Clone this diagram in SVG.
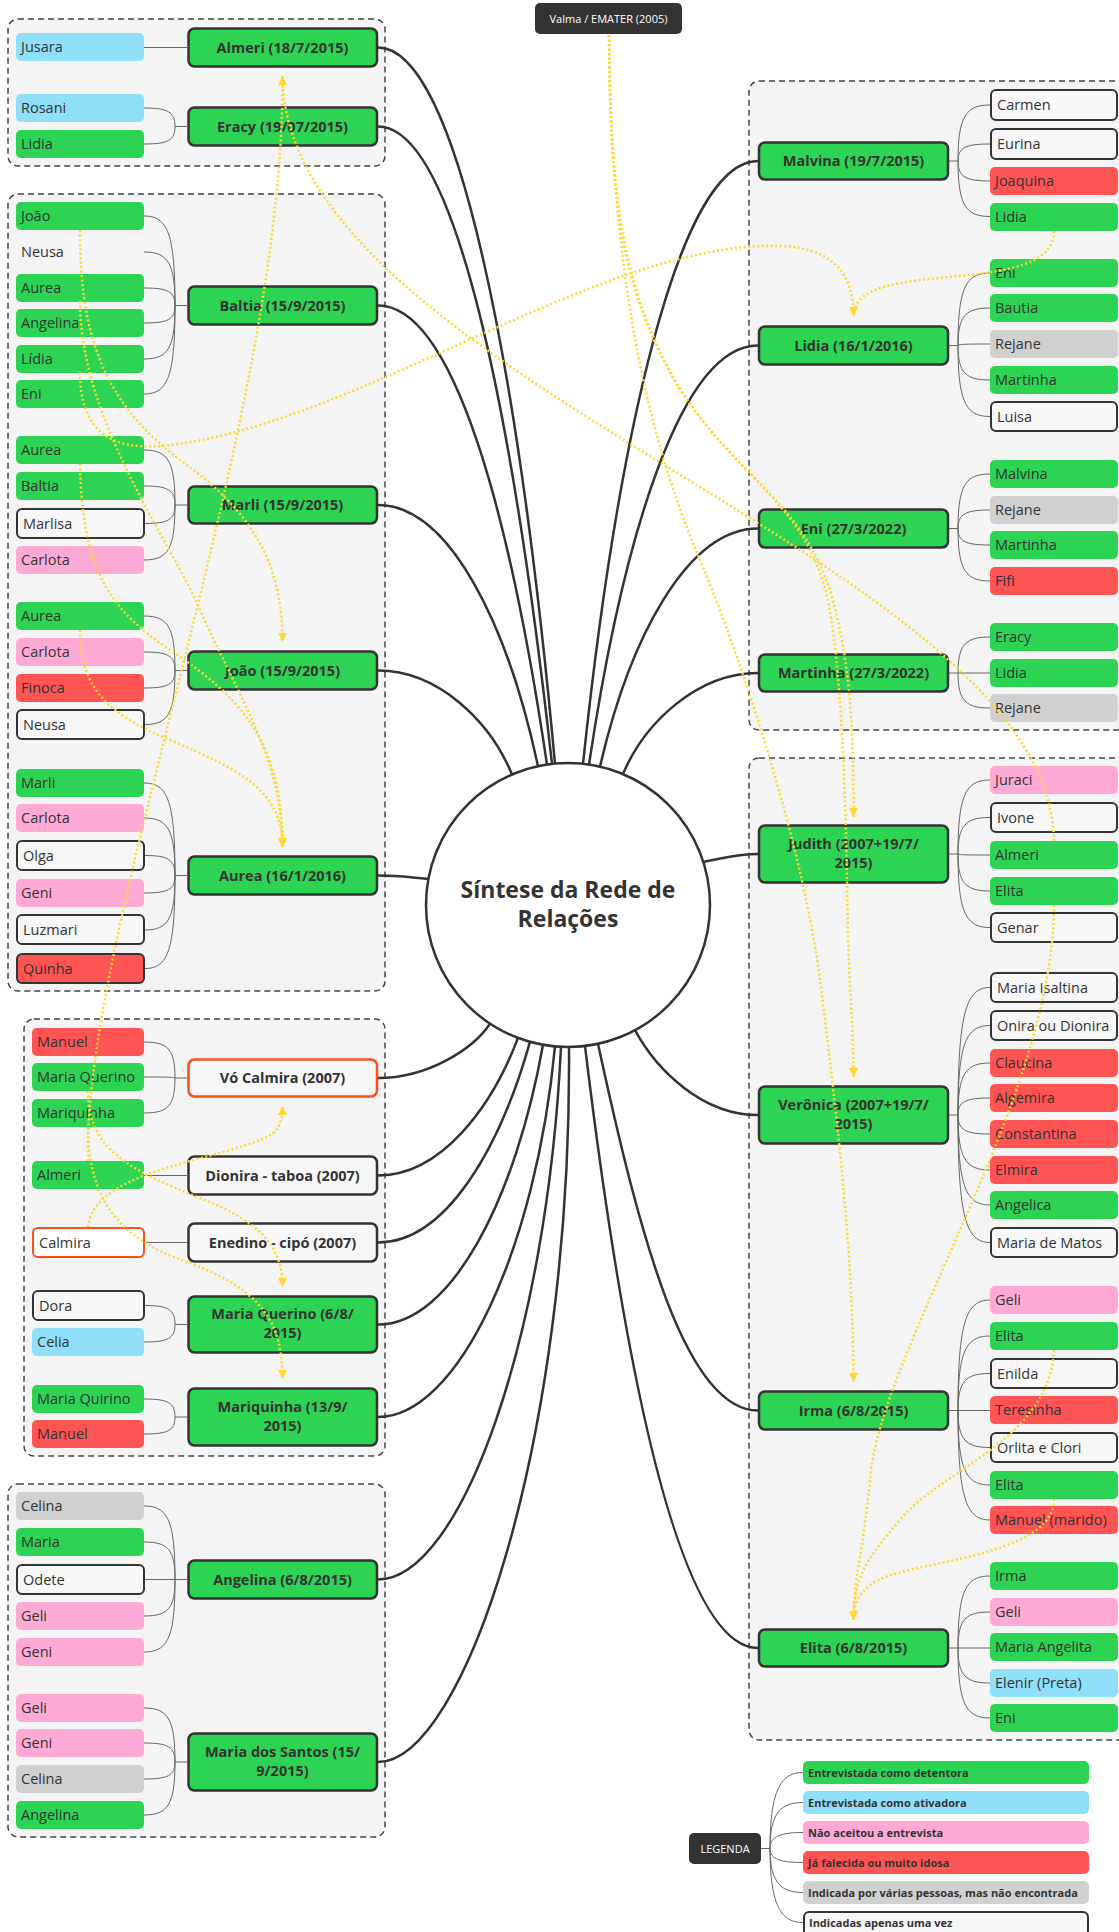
<svg xmlns="http://www.w3.org/2000/svg" width="1119" height="1932" viewBox="0 0 1119 1932">
<style>
.g{fill:#f4f4f4;stroke:#444;stroke-width:1.5;stroke-dasharray:6 4}
.gr{fill:#2dd353}.bl{fill:#8fdff9}.pk{fill:#ffaad5}.rd{fill:#ff5454}.gy{fill:#d0d0d0}
.wb{fill:#f7f7f7;stroke:#333;stroke-width:2}
.ob{fill:#fff;stroke:#ff4d1a;stroke-width:2}
.qb{fill:#ff5454;stroke:#333;stroke-width:2}
.mn{fill:#2dd353;stroke:#333;stroke-width:2.5}
.mw{fill:#f7f7f7;stroke:#333;stroke-width:2.5}
.mo{fill:#f7f7f7;stroke:#ff4d1a;stroke-width:2.5}
.t{font-family:"Open Sans","Noto Sans",sans-serif;font-size:14.5px;fill:#333}
.mt{font-family:"Open Sans","Noto Sans",sans-serif;font-size:14.5px;font-weight:700;fill:#333;text-anchor:middle}
.lt{font-family:"Open Sans","Noto Sans",sans-serif;font-size:11px;font-weight:700;fill:#333}
.wt{font-family:"Open Sans","Noto Sans",sans-serif;font-size:11px;fill:#fff;text-anchor:middle}
.ct{font-family:"Open Sans","Noto Sans",sans-serif;font-size:23px;font-weight:700;fill:#333;text-anchor:middle}
.cn{fill:none;stroke:#333;stroke-width:2.5}
.lc{fill:none;stroke:#666;stroke-width:1}
.rel{fill:none;stroke:#fdd835;stroke-width:2.5;stroke-dasharray:2 2.5;marker-end:url(#ya)}
</style>
<defs>
<marker id="ya" viewBox="0 0 10 10" refX="10" refY="5" markerWidth="9" markerHeight="10" markerUnits="userSpaceOnUse" orient="auto"><path d="M0,0 L10,5 L0,10 z" fill="#fdd835"/></marker>
</defs>
<rect width="1119" height="1932" fill="#fff"/>
<g id="groups">
<rect class="g" x="8" y="19" width="377" height="147" rx="10"/>
<rect class="g" x="8" y="194" width="377" height="797" rx="10"/>
<rect class="g" x="24" y="1019" width="361" height="437" rx="10"/>
<rect class="g" x="8" y="1484" width="377" height="353" rx="10"/>
<rect class="g" x="749" y="81" width="380" height="649" rx="10"/>
<rect class="g" x="749" y="758" width="380" height="982" rx="10"/>
</g>
<g id="connectors">
<g id="main-connectors">
<path class="cn" d="M378,47.5 C458,47.5 519,372 555,763.6"/>
<path class="cn" d="M378,126.5 C456,126.5 513,415 552,763.9"/>
<path class="cn" d="M378,305.5 C454,305.5 510,515 547,764.6"/>
<path class="cn" d="M378,505 C450,505 508,626 538,766.2"/>
<path class="cn" d="M378,670.5 C438,670.5 490,721 512,774.5"/>
<path class="cn" d="M378,875.5 C400,875.5 406,877 428.4,879"/>
<path class="cn" d="M378,1078 C428,1078 473,1049 490,1023.7"/>
<path class="cn" d="M378,1175.5 C441,1175.5 492,1107 518,1037.9"/>
<path class="cn" d="M378,1242.5 C446,1242.5 500,1148 530,1041.8"/>
<path class="cn" d="M378,1324.5 C452,1324.5 516,1197 543,1044.8"/>
<path class="cn" d="M378,1417 C458,1417 536,1249 555,1046.4"/>
<path class="cn" d="M378,1579.5 C460,1579.5 547,1340 561,1046.8"/>
<path class="cn" d="M378,1762 C464,1762 572,1440 569,1047"/>
<path class="cn" d="M758,161 C679,161 618,434 583,763.8"/>
<path class="cn" d="M758,345.5 C681,345.5 623,537 589,764.6"/>
<path class="cn" d="M758,528.5 C687,528.5 629.5,639 600,766.7"/>
<path class="cn" d="M758,673 C697,673 644.5,723 623,774.1"/>
<path class="cn" d="M758,854 C735,854 725,858 703.3,862"/>
<path class="cn" d="M758,1115 C703,1115 657,1071 635,1030.2"/>
<path class="cn" d="M758,1410.5 C686,1410.5 640.6,1241 598,1043.8"/>
<path class="cn" d="M758,1648 C680,1648 624.7,1374.7 585,1046"/>
</g>
<g id="leaf-connectors">
<path class="lc" d="M144,47.5 H187"/>
<path class="lc" d="M144,108 C168,108 175,112 175,126.5 M144,144 C168,144 175,140.5 175,126.5 M175,126.5 H187"/>
<path class="lc" d="M144,216 C168,216 175,234 175,305.5 M144,252 C168,252 175,262.7 175,305.5 M144,288 C168,288 175,291.5 175,305.5 M144,323 C168,323 175,319.5 175,305.5 M144,359 C168,359 175,348.3 175,305.5 M144,394 C168,394 175,376.3 175,305.5 M175,305.5 H187"/>
<path class="lc" d="M144,450 C168,450 175,461 175,505 M144,486 C168,486 175,489.8 175,505 M145,523.5 C168,523.5 175,519.8 175,505 M144,560 C168,560 175,549 175,505 M175,505 H187"/>
<path class="lc" d="M144,616 C168,616 175,626.9 175,670.5 M144,652 C168,652 175,655.7 175,670.5 M144,688 C168,688 175,684.5 175,670.5 M145,724.5 C168,724.5 175,713.7 175,670.5 M175,670.5 H187"/>
<path class="lc" d="M144,783 C168,783 175,801.5 175,875.5 M144,818 C168,818 175,829.5 175,875.5 M145,855.5 C168,855.5 175,859.5 175,875.5 M144,893 C168,893 175,889.5 175,875.5 M145,930 C168,930 175,919.1 175,875.5 M145,968.5 C168,968.5 175,949.9 175,875.5 M175,875.5 H187"/>
<path class="lc" d="M144,1042 C168,1042 175,1049.2 175,1078 M144,1077 C168,1077 175,1077.2 175,1078 M144,1113 C168,1113 175,1106 175,1078 M175,1078 H187"/>
<path class="lc" d="M144,1175.5 H187"/>
<path class="lc" d="M145,1242.5 H187"/>
<path class="lc" d="M145,1305.5 C168,1305.5 175,1309.3 175,1324.5 M144,1342 C168,1342 175,1338.5 175,1324.5 M175,1324.5 H187"/>
<path class="lc" d="M144,1399 C168,1399 175,1402.6 175,1417 M144,1434 C168,1434 175,1430.6 175,1417 M175,1417 H187"/>
<path class="lc" d="M144,1506 C168,1506 175,1520.7 175,1579.5 M144,1542 C168,1542 175,1549.5 175,1579.5 M145,1579.5 H187 M144,1616 C168,1616 175,1608.7 175,1579.5 M144,1652 C168,1652 175,1637.5 175,1579.5"/>
<path class="lc" d="M144,1708 C168,1708 175,1718.8 175,1762 M144,1743 C168,1743 175,1746.8 175,1762 M144,1779 C168,1779 175,1775.6 175,1762 M144,1815 C168,1815 175,1804.4 175,1762 M175,1762 H187"/>
<path class="lc" d="M990,105 C966,105 958,116.2 958,161 M990,144 C966,144 958,147.4 958,161 M990,181 C966,181 958,177 958,161 M990,216.5 C966,216.5 958,205.4 958,161 M949,161 H958"/>
<path class="lc" d="M990,273 C966,273 958,287.5 958,345.5 M990,308 C966,308 958,315.5 958,345.5 M990,344 C966,344 958,344.3 958,345.5 M990,380 C966,380 958,373.1 958,345.5 M990,416.5 C966,416.5 958,402.3 958,345.5 M949,345.5 H958"/>
<path class="lc" d="M990,474 C966,474 958,484.9 958,528.5 M990,510 C966,510 958,513.7 958,528.5 M990,545 C966,545 958,541.7 958,528.5 M990,581 C966,581 958,570.5 958,528.5 M949,528.5 H958"/>
<path class="lc" d="M990,637 C966,637 958,644.2 958,673 M949,673 H990 M990,708 C966,708 958,701 958,673"/>
<path class="lc" d="M990,780 C966,780 958,794.8 958,854 M990,817.5 C966,817.5 958,824.8 958,854 M990,855 C966,855 958,854.8 958,854 M990,891 C966,891 958,883.6 958,854 M990,927.5 C966,927.5 958,912.8 958,854 M949,854 H958"/>
<path class="lc" d="M990,987.5 C966,987.5 958,1013 958,1115 M990,1025.5 C966,1025.5 958,1043.4 958,1115 M990,1063 C966,1063 958,1073.4 958,1115 M990,1098 C966,1098 958,1101.4 958,1115 M990,1134 C966,1134 958,1130.2 958,1115 M990,1170 C966,1170 958,1159 958,1115 M990,1205 C966,1205 958,1187 958,1115 M990,1242.5 C966,1242.5 958,1217 958,1115 M949,1115 H958"/>
<path class="lc" d="M990,1300 C966,1300 958,1322.1 958,1410.5 M990,1336 C966,1336 958,1350.9 958,1410.5 M990,1373.5 C966,1373.5 958,1380.9 958,1410.5 M949,1410.5 H990 M990,1447.5 C966,1447.5 958,1440.1 958,1410.5 M990,1485 C966,1485 958,1470.1 958,1410.5 M990,1520 C966,1520 958,1498.1 958,1410.5"/>
<path class="lc" d="M990,1576 C966,1576 958,1590.4 958,1648 M990,1612 C966,1612 958,1619.2 958,1648 M949,1648 H990 M990,1683 C966,1683 958,1676 958,1648 M990,1718 C966,1718 958,1704 958,1648"/>
<path class="lc" d="M803,1772.5 C782,1772.5 770,1787.7 770,1848.5 M803,1802.5 C782,1802.5 770,1811.7 770,1848.5 M803,1832.5 C782,1832.5 770,1835.7 770,1848.5 M803,1862.5 C782,1862.5 770,1859.7 770,1848.5 M803,1892.5 C782,1892.5 770,1883.7 770,1848.5 M803,1922.5 C782,1922.5 770,1907.7 770,1848.5 M761,1848.5 H770"/>
</g>
</g>
<g id="center">
<circle cx="568" cy="905" r="142" fill="#fff" stroke="#333" stroke-width="2.5"/>
<text class="ct" x="568" y="898">Síntese da Rede de</text>
<text class="ct" x="568" y="927">Relações</text>
</g>
<g id="n-valma"><rect x="535" y="3" width="147" height="31" rx="5" fill="#333"/><text class="wt" x="608.5" y="22.5">Valma / EMATER (2005)</text></g>
<g id="main-nodes">
<g id="m-almeri"><rect class="mn" x="188.5" y="28.5" width="188.5" height="38" rx="6"/><text class="mt" x="282.5" y="52.5">Almeri (18/7/2015)</text></g>
<g id="m-eracy"><rect class="mn" x="188.5" y="107.5" width="188.5" height="38" rx="6"/><text class="mt" x="282.5" y="131.5">Eracy (19/07/2015)</text></g>
<g id="m-baltia"><rect class="mn" x="188.5" y="286.5" width="188.5" height="38" rx="6"/><text class="mt" x="282.5" y="310.5">Baltia (15/9/2015)</text></g>
<g id="m-marli"><rect class="mn" x="188.5" y="486.5" width="188.5" height="37" rx="6"/><text class="mt" x="282.5" y="510">Marli (15/9/2015)</text></g>
<g id="m-joao"><rect class="mn" x="188.5" y="651.5" width="188.5" height="38" rx="6"/><text class="mt" x="282.5" y="675.5">João (15/9/2015)</text></g>
<g id="m-aurea"><rect class="mn" x="188.5" y="856.5" width="188.5" height="38" rx="6"/><text class="mt" x="282.5" y="880.5">Aurea (16/1/2016)</text></g>
<g id="m-vocalmira"><rect class="mo" x="188.5" y="1059.5" width="188.5" height="37" rx="6"/><text class="mt" x="282.5" y="1083">Vó Calmira (2007)</text></g>
<g id="m-dionira"><rect class="mw" x="188.5" y="1156.5" width="188.5" height="38" rx="6"/><text class="mt" x="282.5" y="1180.5">Dionira - taboa (2007)</text></g>
<g id="m-enedino"><rect class="mw" x="188.5" y="1223.5" width="188.5" height="38" rx="6"/><text class="mt" x="282.5" y="1247.5">Enedino - cipó (2007)</text></g>
<g id="m-mariaquerino"><rect class="mn" x="188.5" y="1296.5" width="188.5" height="56" rx="6"/><text class="mt" x="282.5" y="1319">Maria Querino (6/8/</text><text class="mt" x="282.5" y="1338">2015)</text></g>
<g id="m-mariquinha"><rect class="mn" x="188.5" y="1388.5" width="188.5" height="57" rx="6"/><text class="mt" x="282.5" y="1411.5">Mariquinha (13/9/</text><text class="mt" x="282.5" y="1430.5">2015)</text></g>
<g id="m-angelina"><rect class="mn" x="188.5" y="1560.5" width="188.5" height="38" rx="6"/><text class="mt" x="282.5" y="1584.5">Angelina (6/8/2015)</text></g>
<g id="m-mariasantos"><rect class="mn" x="188.5" y="1733.5" width="188.5" height="57" rx="6"/><text class="mt" x="282.5" y="1756.5">Maria dos Santos (15/</text><text class="mt" x="282.5" y="1775.5">9/2015)</text></g>
<g id="m-malvina"><rect class="mn" x="759" y="142.5" width="189" height="37" rx="6"/><text class="mt" x="853.5" y="166">Malvina (19/7/2015)</text></g>
<g id="m-lidia"><rect class="mn" x="759" y="326.5" width="189" height="38" rx="6"/><text class="mt" x="853.5" y="350.5">Lidia (16/1/2016)</text></g>
<g id="m-eni"><rect class="mn" x="759" y="509.5" width="189" height="38" rx="6"/><text class="mt" x="853.5" y="533.5">Eni (27/3/2022)</text></g>
<g id="m-martinha"><rect class="mn" x="759" y="654.5" width="189" height="37" rx="6"/><text class="mt" x="853.5" y="678">Martinha (27/3/2022)</text></g>
<g id="m-judith"><rect class="mn" x="759" y="825.5" width="189" height="57" rx="6"/><text class="mt" x="853.5" y="848.5">Judith (2007+19/7/</text><text class="mt" x="853.5" y="867.5">2015)</text></g>
<g id="m-veronica"><rect class="mn" x="759" y="1086.5" width="189" height="57" rx="6"/><text class="mt" x="853.5" y="1109.5">Verônica (2007+19/7/</text><text class="mt" x="853.5" y="1128.5">2015)</text></g>
<g id="m-irma"><rect class="mn" x="759" y="1391.5" width="189" height="38" rx="6"/><text class="mt" x="853.5" y="1415.5">Irma (6/8/2015)</text></g>
<g id="m-elita"><rect class="mn" x="759" y="1629.5" width="189" height="37" rx="6"/><text class="mt" x="853.5" y="1653">Elita (6/8/2015)</text></g>
</g>
<g id="leaves-left">
<g id="l-jusara"><rect class="bl" x="16" y="33" width="128" height="28" rx="5"/><text class="t" x="21" y="52">Jusara</text></g>
<g id="l-rosani"><rect class="bl" x="16" y="94" width="128" height="28" rx="5"/><text class="t" x="21" y="113">Rosani</text></g>
<g id="l-lidia1"><rect class="gr" x="16" y="130" width="128" height="28" rx="5"/><text class="t" x="21" y="149">Lidia</text></g>
<g id="l-joao"><rect class="gr" x="16" y="202" width="128" height="28" rx="5"/><text class="t" x="21" y="221">João</text></g>
<g id="l-neusa1"><text class="t" x="21" y="257">Neusa</text></g>
<g id="l-aurea1"><rect class="gr" x="16" y="274" width="128" height="28" rx="5"/><text class="t" x="21" y="293">Aurea</text></g>
<g id="l-angelina1"><rect class="gr" x="16" y="309" width="128" height="28" rx="5"/><text class="t" x="21" y="328">Angelina</text></g>
<g id="l-lidia2"><rect class="gr" x="16" y="345" width="128" height="28" rx="5"/><text class="t" x="21" y="364">Lídia</text></g>
<g id="l-eni1"><rect class="gr" x="16" y="380" width="128" height="28" rx="5"/><text class="t" x="21" y="399">Eni</text></g>
<g id="l-aurea2"><rect class="gr" x="16" y="436" width="128" height="28" rx="5"/><text class="t" x="21" y="455">Aurea</text></g>
<g id="l-baltia"><rect class="gr" x="16" y="472" width="128" height="28" rx="5"/><text class="t" x="21" y="491">Baltia</text></g>
<g id="l-marlisa"><rect class="wb" x="17" y="509" width="127" height="29" rx="5"/><text class="t" x="23" y="528.5">Marlisa</text></g>
<g id="l-carlota1"><rect class="pk" x="16" y="546" width="128" height="28" rx="5"/><text class="t" x="21" y="565">Carlota</text></g>
<g id="l-aurea3"><rect class="gr" x="16" y="602" width="128" height="28" rx="5"/><text class="t" x="21" y="621">Aurea</text></g>
<g id="l-carlota2"><rect class="pk" x="16" y="638" width="128" height="28" rx="5"/><text class="t" x="21" y="657">Carlota</text></g>
<g id="l-finoca"><rect class="rd" x="16" y="674" width="128" height="28" rx="5"/><text class="t" x="21" y="693">Finoca</text></g>
<g id="l-neusa2"><rect class="wb" x="17" y="710" width="127" height="29" rx="5"/><text class="t" x="23" y="729.5">Neusa</text></g>
<g id="l-marli"><rect class="gr" x="16" y="769" width="128" height="28" rx="5"/><text class="t" x="21" y="788">Marli</text></g>
<g id="l-carlota3"><rect class="pk" x="16" y="804" width="128" height="28" rx="5"/><text class="t" x="21" y="823">Carlota</text></g>
<g id="l-olga"><rect class="wb" x="17" y="841" width="127" height="29" rx="5"/><text class="t" x="23" y="860.5">Olga</text></g>
<g id="l-geni1"><rect class="pk" x="16" y="879" width="128" height="28" rx="5"/><text class="t" x="21" y="898">Geni</text></g>
<g id="l-luzmari"><rect class="wb" x="17" y="915" width="127" height="29" rx="5"/><text class="t" x="23" y="934.5">Luzmari</text></g>
<g id="l-quinha"><rect class="qb" x="17" y="954" width="127" height="29" rx="5"/><text class="t" x="23" y="973.5">Quinha</text></g>
<g id="l-manuel1"><rect class="rd" x="32" y="1028" width="112" height="28" rx="5"/><text class="t" x="37" y="1047">Manuel</text></g>
<g id="l-mariaquerino"><rect class="gr" x="32" y="1063" width="112" height="28" rx="5"/><text class="t" x="37" y="1082">Maria Querino</text></g>
<g id="l-mariquinha"><rect class="gr" x="32" y="1099" width="112" height="28" rx="5"/><text class="t" x="37" y="1118">Mariquinha</text></g>
<g id="l-almeri1"><rect class="gr" x="32" y="1161" width="112" height="28" rx="5"/><text class="t" x="37" y="1180">Almeri</text></g>
<g id="l-calmira"><rect class="ob" x="33" y="1228" width="111" height="29" rx="5"/><text class="t" x="39" y="1247.5">Calmira</text></g>
<g id="l-dora"><rect class="wb" x="33" y="1291" width="111" height="29" rx="5"/><text class="t" x="39" y="1310.5">Dora</text></g>
<g id="l-celia"><rect class="bl" x="32" y="1328" width="112" height="28" rx="5"/><text class="t" x="37" y="1347">Celia</text></g>
<g id="l-mariaquirino"><rect class="gr" x="32" y="1385" width="112" height="28" rx="5"/><text class="t" x="37" y="1404">Maria Quirino</text></g>
<g id="l-manuel2"><rect class="rd" x="32" y="1420" width="112" height="28" rx="5"/><text class="t" x="37" y="1439">Manuel</text></g>
<g id="l-celina1"><rect class="gy" x="16" y="1492" width="128" height="28" rx="5"/><text class="t" x="21" y="1511">Celina</text></g>
<g id="l-maria"><rect class="gr" x="16" y="1528" width="128" height="28" rx="5"/><text class="t" x="21" y="1547">Maria</text></g>
<g id="l-odete"><rect class="wb" x="17" y="1565" width="127" height="29" rx="5"/><text class="t" x="23" y="1584.5">Odete</text></g>
<g id="l-geli1"><rect class="pk" x="16" y="1602" width="128" height="28" rx="5"/><text class="t" x="21" y="1621">Geli</text></g>
<g id="l-geni2"><rect class="pk" x="16" y="1638" width="128" height="28" rx="5"/><text class="t" x="21" y="1657">Geni</text></g>
<g id="l-geli2"><rect class="pk" x="16" y="1694" width="128" height="28" rx="5"/><text class="t" x="21" y="1713">Geli</text></g>
<g id="l-geni3"><rect class="pk" x="16" y="1729" width="128" height="28" rx="5"/><text class="t" x="21" y="1748">Geni</text></g>
<g id="l-celina2"><rect class="gy" x="16" y="1765" width="128" height="28" rx="5"/><text class="t" x="21" y="1784">Celina</text></g>
<g id="l-angelina2"><rect class="gr" x="16" y="1801" width="128" height="28" rx="5"/><text class="t" x="21" y="1820">Angelina</text></g>
</g>
<g id="leaves-right">
<g id="r-carmen"><rect class="wb" x="991" y="90" width="126" height="30" rx="5"/><text class="t" x="997" y="110">Carmen</text></g>
<g id="r-eurina"><rect class="wb" x="991" y="129" width="126" height="30" rx="5"/><text class="t" x="997" y="149">Eurina</text></g>
<g id="r-joaquina"><rect class="rd" x="990" y="167" width="128" height="28" rx="5"/><text class="t" x="995" y="186">Joaquina</text></g>
<g id="r-lidia1"><rect class="gr" x="990" y="203" width="128" height="28" rx="5"/><text class="t" x="995" y="222">Lidia</text></g>
<g id="r-eni1"><rect class="gr" x="990" y="259" width="128" height="28" rx="5"/><text class="t" x="995" y="278">Eni</text></g>
<g id="r-bautia"><rect class="gr" x="990" y="294" width="128" height="28" rx="5"/><text class="t" x="995" y="313">Bautia</text></g>
<g id="r-rejane1"><rect class="gy" x="990" y="330" width="128" height="28" rx="5"/><text class="t" x="995" y="349">Rejane</text></g>
<g id="r-martinha1"><rect class="gr" x="990" y="366" width="128" height="28" rx="5"/><text class="t" x="995" y="385">Martinha</text></g>
<g id="r-luisa"><rect class="wb" x="991" y="402" width="126" height="29" rx="5"/><text class="t" x="997" y="421.5">Luisa</text></g>
<g id="r-malvina"><rect class="gr" x="990" y="460" width="128" height="28" rx="5"/><text class="t" x="995" y="479">Malvina</text></g>
<g id="r-rejane2"><rect class="gy" x="990" y="496" width="128" height="28" rx="5"/><text class="t" x="995" y="515">Rejane</text></g>
<g id="r-martinha2"><rect class="gr" x="990" y="531" width="128" height="28" rx="5"/><text class="t" x="995" y="550">Martinha</text></g>
<g id="r-fifi"><rect class="rd" x="990" y="567" width="128" height="28" rx="5"/><text class="t" x="995" y="586">Fifi</text></g>
<g id="r-eracy"><rect class="gr" x="990" y="623" width="128" height="28" rx="5"/><text class="t" x="995" y="642">Eracy</text></g>
<g id="r-lidia2"><rect class="gr" x="990" y="659" width="128" height="28" rx="5"/><text class="t" x="995" y="678">Lidia</text></g>
<g id="r-rejane3"><rect class="gy" x="990" y="694" width="128" height="28" rx="5"/><text class="t" x="995" y="713">Rejane</text></g>
<g id="r-juraci"><rect class="pk" x="990" y="766" width="128" height="28" rx="5"/><text class="t" x="995" y="785">Juraci</text></g>
<g id="r-ivone"><rect class="wb" x="991" y="803" width="126" height="29" rx="5"/><text class="t" x="997" y="822.5">Ivone</text></g>
<g id="r-almeri"><rect class="gr" x="990" y="841" width="128" height="28" rx="5"/><text class="t" x="995" y="860">Almeri</text></g>
<g id="r-elita1"><rect class="gr" x="990" y="877" width="128" height="28" rx="5"/><text class="t" x="995" y="896">Elita</text></g>
<g id="r-genar"><rect class="wb" x="991" y="913" width="126" height="29" rx="5"/><text class="t" x="997" y="932.5">Genar</text></g>
<g id="r-mariaisaltina"><rect class="wb" x="991" y="973" width="126" height="29" rx="5"/><text class="t" x="997" y="992.5">Maria Isaltina</text></g>
<g id="r-onira"><rect class="wb" x="991" y="1011" width="126" height="29" rx="5"/><text class="t" x="997" y="1030.5">Onira ou Dionira</text></g>
<g id="r-claucina"><rect class="rd" x="990" y="1049" width="128" height="28" rx="5"/><text class="t" x="995" y="1068">Claucina</text></g>
<g id="r-algemira"><rect class="rd" x="990" y="1084" width="128" height="28" rx="5"/><text class="t" x="995" y="1103">Algemira</text></g>
<g id="r-constantina"><rect class="rd" x="990" y="1120" width="128" height="28" rx="5"/><text class="t" x="995" y="1139">Constantina</text></g>
<g id="r-elmira"><rect class="rd" x="990" y="1156" width="128" height="28" rx="5"/><text class="t" x="995" y="1175">Elmira</text></g>
<g id="r-angelica"><rect class="gr" x="990" y="1191" width="128" height="28" rx="5"/><text class="t" x="995" y="1210">Angelica</text></g>
<g id="r-mariamatos"><rect class="wb" x="991" y="1228" width="126" height="29" rx="5"/><text class="t" x="997" y="1247.5">Maria de Matos</text></g>
<g id="r-geli1"><rect class="pk" x="990" y="1286" width="128" height="28" rx="5"/><text class="t" x="995" y="1305">Geli</text></g>
<g id="r-elita2"><rect class="gr" x="990" y="1322" width="128" height="28" rx="5"/><text class="t" x="995" y="1341">Elita</text></g>
<g id="r-enilda"><rect class="wb" x="991" y="1359" width="126" height="29" rx="5"/><text class="t" x="997" y="1378.5">Enilda</text></g>
<g id="r-teresinha"><rect class="rd" x="990" y="1396" width="128" height="28" rx="5"/><text class="t" x="995" y="1415">Teresinha</text></g>
<g id="r-orlita"><rect class="wb" x="991" y="1433" width="126" height="29" rx="5"/><text class="t" x="997" y="1452.5">Orlita e Clori</text></g>
<g id="r-elita3"><rect class="gr" x="990" y="1471" width="128" height="28" rx="5"/><text class="t" x="995" y="1490">Elita</text></g>
<g id="r-manuel"><rect class="rd" x="990" y="1506" width="128" height="28" rx="5"/><text class="t" x="995" y="1525">Manuel (marido)</text></g>
<g id="r-irma"><rect class="gr" x="990" y="1562" width="128" height="28" rx="5"/><text class="t" x="995" y="1581">Irma</text></g>
<g id="r-geli2"><rect class="pk" x="990" y="1598" width="128" height="28" rx="5"/><text class="t" x="995" y="1617">Geli</text></g>
<g id="r-mariaangelita"><rect class="gr" x="990" y="1633" width="128" height="28" rx="5"/><text class="t" x="995" y="1652">Maria Angelita</text></g>
<g id="r-elenir"><rect class="bl" x="990" y="1669" width="128" height="28" rx="5"/><text class="t" x="995" y="1688">Elenir (Preta)</text></g>
<g id="r-eni2"><rect class="gr" x="990" y="1704" width="128" height="28" rx="5"/><text class="t" x="995" y="1723">Eni</text></g>
</g>
<g id="legend">
<g id="lg-root"><rect x="689" y="1833" width="72" height="31" rx="5" fill="#333"/><text class="wt" x="725" y="1852.5" font-size="11.5">LEGENDA</text></g>
<g id="lg-1"><rect class="gr" x="803" y="1761" width="286" height="23" rx="5"/><text class="lt" x="808" y="1776.5">Entrevistada como detentora</text></g>
<g id="lg-2"><rect class="bl" x="803" y="1791" width="286" height="23" rx="5"/><text class="lt" x="808" y="1806.5">Entrevistada como ativadora</text></g>
<g id="lg-3"><rect class="pk" x="803" y="1821" width="286" height="23" rx="5"/><text class="lt" x="808" y="1836.5">Não aceitou a entrevista</text></g>
<g id="lg-4"><rect class="rd" x="803" y="1851" width="286" height="23" rx="5"/><text class="lt" x="808" y="1866.5">Já falecida ou muito idosa</text></g>
<g id="lg-5"><rect class="gy" x="803" y="1881" width="286" height="23" rx="5"/><text class="lt" x="808" y="1896.5">Indicada por várias pessoas, mas não encontrada</text></g>
<g id="lg-6"><rect class="wb" x="804" y="1912" width="284" height="24" rx="5"/><text class="lt" x="809" y="1927">Indicadas apenas uma vez</text></g>
</g>
<g id="relationships">
<path class="rel" d="M88,1161 C82,930 285,420 282.5,76"/>
<path class="rel" d="M1054,841 C1050,560 285,380 282.5,76"/>
<path class="rel" d="M1054,231 C1054,300 853.5,255 853.5,316"/>
<path class="rel" d="M80,372 C80,430 110,450 160,446 C350,430 600,240 780,246 C830,248 853.5,270 853.5,316"/>
<path class="rel" d="M80,230 C80,330 100,400 180,460 C250,510 282.5,560 282.5,642"/>
<path class="rel" d="M80,630 C80,690 110,715 170,740 C240,770 282.5,790 282.5,847"/>
<path class="rel" d="M80,464 C82,570 110,610 170,650 C240,697 282.5,740 282.5,847"/>
<path class="rel" d="M80,301 C80,420 170,540 200,610 C240,700 282.5,760 282.5,847"/>
<path class="rel" d="M88,1227 C92,1180 180,1165 230,1150 C270,1138 282.5,1135 282.5,1106"/>
<path class="rel" d="M88,1091 C88,1150 130,1170 200,1198 C260,1222 282.5,1245 282.5,1287"/>
<path class="rel" d="M88,1127 C88,1200 120,1240 190,1263 C260,1290 282.5,1320 282.5,1379"/>
<path class="rel" d="M609,35 C610,200 620,290 680,390 C740,480 800,500 830,590 C850,660 853.5,720 853.5,817"/>
<path class="rel" d="M609,35 C611,200 622,292 682,392 C742,482 802,502 826,592 C842,660 846,800 848,940 C850,1000 853.5,1030 853.5,1077"/>
<path class="rel" d="M609,35 C611,250 640,420 700,560 C750,680 805,860 820,980 C835,1100 853.5,1250 853.5,1382"/>
<path class="rel" d="M1054,905 C1054,1100 880,1350 870,1480 C862,1560 853.5,1580 853.5,1620"/>
<path class="rel" d="M1054,1350 C1050,1440 940,1470 900,1520 C865,1560 853.5,1580 853.5,1620"/>
<path class="rel" d="M1054,1499 C1054,1560 900,1560 870,1585 C858,1595 853.5,1605 853.5,1620"/>
</g>
</svg>
